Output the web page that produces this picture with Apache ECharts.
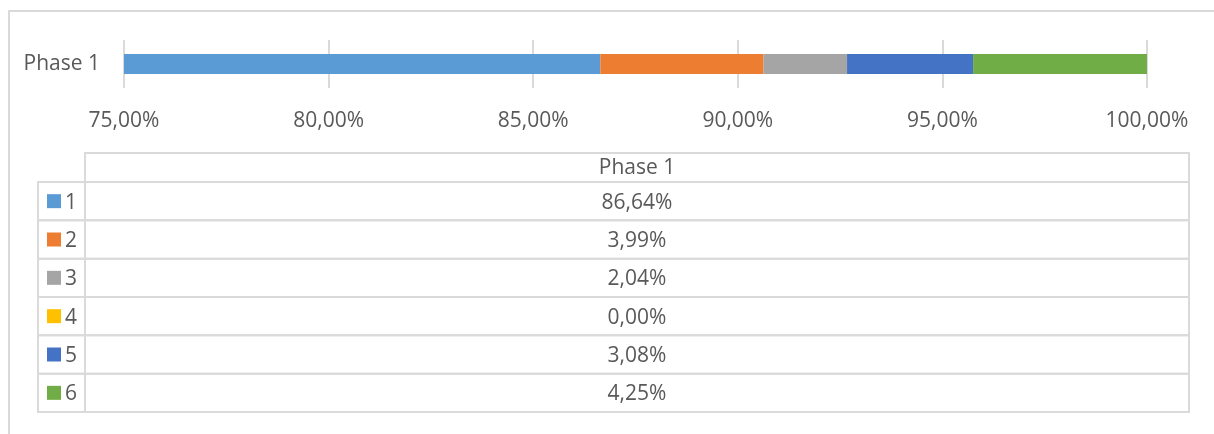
<!DOCTYPE html>
<html>
<head>
<meta charset="utf-8">
<script src="https://cdn.jsdelivr.net/npm/echarts@6/dist/echarts.min.js"></script>
<style>
  html, body { margin: 0; padding: 0; background: #fff; }
  #chart { width: 1214px; height: 434px; }
</style>
</head>
<body>
<div id="chart"></div>
<script>
// data
const categories = ["Phase 1"];
const seriesNames = ["1", "2", "3", "4", "5", "6"];
const seriesValues = [86.64, 3.99, 2.04, 0.0, 3.08, 4.25];
const axisMin = 75;
const axisMax = 100;
const axisStep = 5;

const colors = ["#5B9BD5", "#ED7D31", "#A5A5A5", "#FFC000", "#4472C4", "#70AD47"];
const FONT = "'Open Sans', 'Noto Sans', sans-serif";
const FSIZE = 21;
const TEXT = "#595959";
const LINE = "#DADADA";

const fmt = v => v.toFixed(2).replace(".", ",") + "%";

const chart = echarts.init(document.getElementById("chart"));

const barSeries = seriesNames.map((name, i) => ({
  name: name,
  type: "bar",
  stack: "total",
  xAxisIndex: 0,
  yAxisIndex: 0,
  barWidth: 20,
  itemStyle: { color: colors[i] },
  data: [seriesValues[i]]
}));

// data table under the chart, rows laid out on a hidden value axis
const tableSeries = {
  type: "custom",
  xAxisIndex: 1,
  yAxisIndex: 1,
  silent: true,
  data: seriesValues.map((v, i) => [i, v]),
  renderItem(params, api) {
    const i = api.value(0);
    const v = api.value(1);
    const tl = api.coord([0, i]);
    const br = api.coord([1, i + 1]);
    const x0 = tl[0], y0 = tl[1], x1 = br[0], y1 = br[1];
    const h = y1 - y0;
    const yc = (y0 + y1) / 2;
    const ty = yc + 1.5; // text sits a bit low in the cell
    const font = FSIZE + "px " + FONT;
    const border = { fill: "none", stroke: LINE, lineWidth: 2 };
    const children = [
      { type: "rect", shape: { x: x0, y: y0, width: x1 - x0, height: h }, style: border },
      { type: "rect", shape: { x: 38, y: y0, width: x0 - 38, height: h }, style: border },
      { type: "rect", shape: { x: 47, y: yc - 7, width: 14, height: 14 }, style: { fill: colors[i] } },
      { type: "text", x: 65, y: ty, style: { text: seriesNames[i], fill: TEXT, font: font, align: "left", verticalAlign: "middle" } },
      { type: "text", x: (x0 + x1) / 2, y: ty, style: { text: fmt(v), fill: TEXT, font: font, align: "center", verticalAlign: "middle" } }
    ];
    if (i === 0) {
      children.push(
        { type: "rect", shape: { x: x0, y: y0 - 29, width: x1 - x0, height: 29 }, style: border },
        { type: "text", x: (x0 + x1) / 2, y: y0 - 13.5, style: { text: categories[0], fill: TEXT, font: font, align: "center", verticalAlign: "middle" } }
      );
    }
    return { type: "group", children: children };
  }
};

let option = {
  animation: false,
  textStyle: { fontFamily: FONT },
  graphic: [
    {
      type: "rect",
      silent: true,
      z: -1,
      shape: { x: 9, y: 11, width: 1400, height: 600 },
      style: { fill: "none", stroke: LINE, lineWidth: 2 }
    }
  ],
  grid: [
    { left: 124, right: 67, top: 40, height: 48 },
    { left: 85, right: 25, top: 182, bottom: 22 }
  ],
  xAxis: [
    {
      type: "value",
      gridIndex: 0,
      min: axisMin,
      max: axisMax,
      interval: axisStep,
      axisLine: { show: false },
      axisTick: { show: false },
      splitLine: { lineStyle: { color: LINE, width: 2 } },
      axisLabel: { formatter: v => fmt(v), color: TEXT, fontSize: FSIZE, margin: 23, fontFamily: FONT }
    },
    { type: "value", gridIndex: 1, min: 0, max: 1, show: false }
  ],
  yAxis: [
    {
      type: "category",
      gridIndex: 0,
      data: categories,
      axisLine: { show: false },
      axisTick: { show: false },
      axisLabel: { color: TEXT, fontSize: FSIZE, margin: 24, fontFamily: FONT }
    },
    { type: "value", gridIndex: 1, min: 0, max: 6, inverse: true, show: false }
  ],
  series: barSeries.concat([tableSeries])
};

chart.setOption(option, true);
</script>
</body>
</html>
